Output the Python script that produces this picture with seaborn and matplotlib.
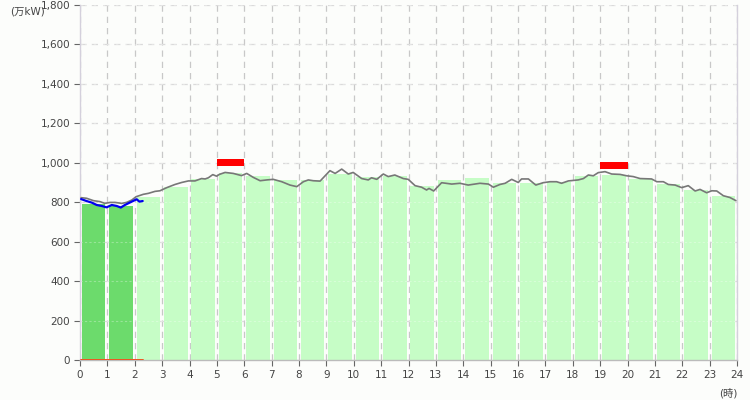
import matplotlib
matplotlib.use("Agg")
import matplotlib.pyplot as plt
import seaborn as sns
import pandas as pd
from matplotlib.ticker import FuncFormatter

sns.set_theme(style="white")
plt.rcParams['font.family'] = ['DejaVu Sans', 'Noto Sans CJK JP']

# ---- data ----
hours = list(range(24))
hourly_values = [791, 782, 828, 876, 916, 947, 933, 913, 913, 941, 926, 934,
                 884, 913, 923, 896, 900, 904, 933, 938, 920, 892, 862, 832]
actual_hours = [0, 1]  # hours with actual results (dark bars)

forecast_x = [0.04, 0.24, 0.49, 0.73, 0.91, 1.1, 1.28, 1.52, 1.7, 1.89, 2.05, 2.31, 2.5, 2.74,
              2.92, 3.17, 3.47, 3.71, 3.96, 4.2, 4.44, 4.57, 4.69, 4.85, 4.99, 5.09, 5.3, 5.6,
              5.9, 6.09, 6.33, 6.58, 6.82, 7.06, 7.37, 7.67, 7.92, 8.16, 8.34, 8.52, 8.77,
              9.13, 9.32, 9.56, 9.8, 9.98, 10.29, 10.53, 10.65, 10.84, 11.08, 11.26, 11.5,
              11.81, 11.99, 12.24, 12.48, 12.66, 12.75, 12.92, 13.21, 13.58, 13.88, 14.18,
              14.61, 14.92, 15.1, 15.34, 15.53, 15.77, 16.01, 16.13, 16.38, 16.65, 16.92,
              17.17, 17.41, 17.59, 17.84, 18.2, 18.39, 18.57, 18.75, 18.93, 19.18, 19.42,
              19.73, 19.97, 20.21, 20.46, 20.88, 21.07, 21.31, 21.49, 21.74, 21.98, 22.22,
              22.47, 22.65, 22.89, 23.08, 23.26, 23.5, 23.74, 23.96]
forecast_y = [823, 820, 808, 803, 794, 799, 799, 794, 799, 811, 828, 840, 845, 855,
              858, 874, 890, 900, 908, 908, 920, 918, 924, 940, 932, 941, 951, 946,
              935, 946, 926, 909, 913, 916, 904, 887, 879, 904, 913, 909, 907,
              960, 946, 968, 943, 951, 920, 913, 924, 916, 943, 930, 938,
              920, 916, 884, 876, 862, 870, 857, 899, 892, 896, 887,
              896, 892, 876, 890, 896, 916, 900, 918, 918, 887, 899,
              904, 904, 896, 908, 913, 920, 938, 934, 950, 955, 943,
              941, 934, 930, 920, 918, 904, 904, 890, 887, 874, 884,
              857, 865, 848, 858, 857, 833, 824, 808]

actual_x = [0.04, 0.24, 0.43, 0.61, 0.79, 0.97, 1.16, 1.34, 1.49, 1.64, 1.83, 2.07, 2.17, 2.29]
actual_y = [816, 806, 798, 786, 781, 774, 786, 781, 773, 786, 799, 815, 803, 806]
zero_y = [0] * len(actual_x)

peak_hours = [5, 19]
peak_values = [1000, 986]

y_ticks = list(range(0, 1801, 200))
x_ticks = list(range(0, 25))

# ---- figure ----
fig = plt.figure(figsize=(7.5, 4.0), dpi=100)
fig.patch.set_facecolor("#fcfdfb")
ax = fig.add_axes([80 / 750, 40 / 400, 657 / 750, 355 / 400])
ax.set_facecolor("#fcfdfb")

bars = pd.DataFrame({"x": [h + 0.5 for h in hours], "v": hourly_values,
                     "kind": ["actual" if h in actual_hours else "forecast" for h in hours]})
ax.set_axisbelow(True)
ax.grid(True, axis="y", color="#dadada", linestyle=(0, (5, 4)), linewidth=0.9)
ax.grid(True, axis="x", color="#c8c8c8", linestyle=(0, (5, 4)), linewidth=0.9)

sns.barplot(data=bars, x="x", y="v", hue="kind", native_scale=True, width=0.86,
            palette={"actual": "#6cdb6c", "forecast": "#c6fdc6"}, dodge=False,
            saturation=1, legend=False, ax=ax, linewidth=0, errorbar=None)

# faint grid overlay inside bars
for yv in y_ticks[1:]:
    ax.axhline(yv, color="white", alpha=0.3, linestyle=(0, (2, 2)), linewidth=0.8, zorder=2.5)

sns.lineplot(x=forecast_x, y=forecast_y, color="#777777", linewidth=1.2, ax=ax, zorder=4)
sns.lineplot(x=actual_x, y=actual_y, color="#0000ee", linewidth=1.6, ax=ax, zorder=5)
sns.lineplot(x=actual_x, y=zero_y, color="#ee5522", linewidth=1.4, ax=ax, zorder=5)

for h, pv in zip(peak_hours, peak_values):
    ax.bar(h, 34, bottom=pv - 17, width=1.0, align="edge", color="#ff0000", linewidth=0, zorder=6)

ax.set_xlim(0, 24)
ax.set_ylim(0, 1800)
ax.set_xticks(x_ticks)
ax.set_yticks(y_ticks)
ax.yaxis.set_major_formatter(FuncFormatter(lambda v, p: f"{int(v):,}"))
ax.set_xlabel("")
ax.set_ylabel("")

ax.spines["top"].set_visible(False)
ax.spines["left"].set_color("#d4d0dc")
ax.spines["right"].set_color("#d4d0dc")
ax.spines["bottom"].set_color("#bbbbbb")
for s in ["left", "right", "bottom"]:
    ax.spines[s].set_linewidth(1.0)

ax.tick_params(axis="both", which="both", length=4, width=0.8, color="#666666",
               labelcolor="#444444", labelsize=7.5, pad=3, direction="out",
               left=True, bottom=True)

fig.text(10 / 750, 1 - 11 / 400, "(万kW)", fontsize=7.5, color="#444444",
         ha="left", va="center")
fig.text(738 / 750, 1 - 393 / 400, "(時)", fontsize=7.5, color="#444444",
         ha="right", va="center")

fig.savefig("out.png", dpi=100, facecolor=fig.get_facecolor())
